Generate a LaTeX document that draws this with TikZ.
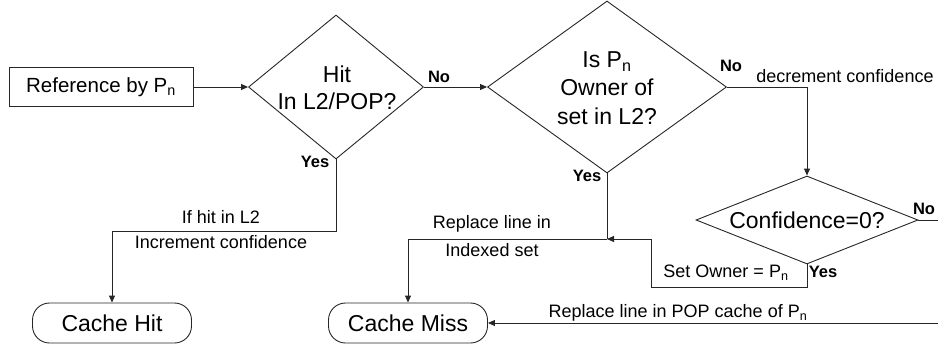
\documentclass[tikz,border=0pt]{standalone}
\usepackage{fontspec}
\setmainfont{Liberation Sans}
\usetikzlibrary{arrows.meta,shapes.geometric}
\newcommand\Pn{P\textsubscript{n}}
\begin{document}
\begin{tikzpicture}[x=1pt,y=-1pt,
  line/.style={draw=black!85, line width=0.9pt},
  arr/.style={line, -{Triangle[length=7pt,width=6pt]}},
  dec/.style={diamond, draw=black!85, line width=0.9pt, inner sep=0pt},
  big/.style={font=\fontsize{23}{28.5}\selectfont, align=center, inner sep=0pt},
  lab/.style={font=\fontsize{18}{25}\selectfont, inner sep=0pt},
  yn/.style={font=\fontsize{16.5}{18}\selectfont\bfseries, inner sep=0pt},
  term/.style={draw=black!85, line width=0.9pt, rounded corners=17pt, minimum width=159pt, minimum height=40pt, inner sep=0pt, font=\fontsize{23}{28}\selectfont}
]
\useasboundingbox (0,0) rectangle (938,349);
% nodes
\node[draw=black!85, line width=0.9pt, minimum width=184pt, minimum height=39pt, inner sep=0pt, font=\fontsize{20.5}{24}\selectfont] (ref) at (101,87) {Reference by \Pn};
\node[dec, minimum width=175pt, minimum height=144pt] (d1) at (336,87) {};
\node[big, font=\fontsize{23}{27}\selectfont] (t1) at (337,88) {Hit\\In L2/POP?};
\node[dec, minimum width=239pt, minimum height=172pt] (d2) at (607,87) {};
\node[big] (t2) at (607,88) {Is \Pn\\Owner of\\set in L2?};
\node[dec, minimum width=222pt, minimum height=88pt] (d3) at (807,220) {};
\node[big] (t3) at (807,220) {Confidence=0?};
\node[term] (hit) at (112,323) {Cache Hit};
\node[term] (miss) at (408,323) {Cache Miss};
% coordinates
\coordinate (k1) at (336,231);
\coordinate (j1) at (607,239);
\coordinate (s2) at (651,287);
\coordinate (e3) at (938,220);
\coordinate (eb) at (938,323);
% connectors
\draw[arr] (ref.east) -- (d1.west);
\draw[arr] (d1.east) -- (d2.west);
\draw[arr] (d2.east) -- (d2.east -| d3.north) -- (d3.north);
\draw[line] (d3.east) -- (e3);
\draw[arr] (eb) -- (miss.east);
\draw[arr] (d3.south) |- (s2) |- (j1);
\draw[line] (d2.south) -- (j1);
\draw[arr] (j1) -| (miss.north);
\draw[arr] (d1.south) -- (k1) -| (hit.north);
% labels
\node[yn] (n1) at (439,77) {No};
\node[yn] (n2) at (731,66) {No};
\node[yn] (n3) at (924,209) {No};
\node[yn] (y1) at (315,162) {Yes};
\node[yn] (y2) at (587,176) {Yes};
\node[yn] (y3) at (823,272) {Yes};
\node[lab] (l1) at (845,76) {decrement confidence};
\node[lab] (l2) at (221,217) {If hit in L2};
\node[lab] (l3) at (221,242) {Increment confidence};
\node[lab] (l4) at (492,224) {Replace line in};
\node[lab] (l5) at (492,250) {Indexed set};
\node[lab] (l6) at (726,273) {Set Owner = \Pn};
\node[lab] (l7) at (678,313) {Replace line in POP cache of \Pn};
\end{tikzpicture}
\end{document}
